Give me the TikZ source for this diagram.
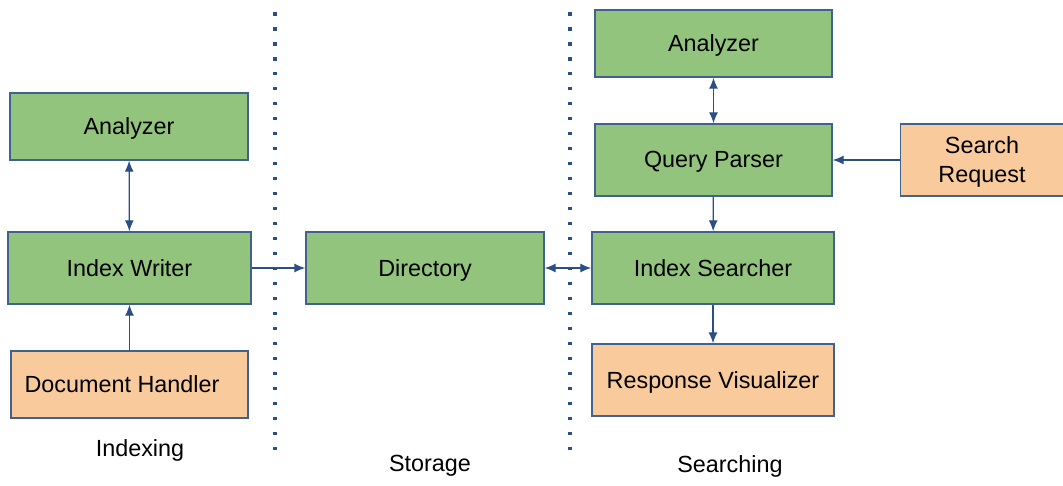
\documentclass[tikz,border=0pt]{standalone}
\usepackage{fontspec}
\setmainfont{Liberation Sans}
\usepackage{xcolor}
\usetikzlibrary{arrows.meta}
\definecolor{boxgreen}{HTML}{93C47D}
\definecolor{boxorange}{HTML}{F9CB9C}
\definecolor{edgeblue}{HTML}{41618F}
\definecolor{linkblue}{HTML}{2B4F85}

\begin{document}
\begin{tikzpicture}[x=0.02cm,y=-0.02cm,
  box/.style={draw=edgeblue, line width=0.8pt, fill=boxgreen,
    minimum width=4.76cm, minimum height=1.4cm, inner sep=2pt,
    text depth=0.1ex,
    font=\fontsize{13.3}{16.5}\selectfont, align=center},
  inbox/.style={box, fill=boxorange},
  link/.style={draw=linkblue, line width=0.7pt, -{Latex[length=0.22cm,width=0.18cm]}},
  twolink/.style={link, {Latex[length=0.22cm,width=0.18cm]}-{Latex[length=0.22cm,width=0.18cm]}},
  sep/.style={draw=linkblue, line width=0.07cm, dash pattern=on 0.07cm off 0.23cm},
  part/.style={font=\fontsize{13.3}{15.5}\selectfont}]
  \useasboundingbox (0,0) rectangle (1063,485);

  % indexing
  \node[box, minimum width=4.76cm, minimum height=1.34cm] (an1) at (129,126.5) {Analyzer};
  \node[box, minimum width=4.86cm, minimum height=1.44cm] (iw) at (129.5,268) {Index Writer};
  \node[inbox, minimum width=4.74cm, minimum height=1.34cm] (dh) at (129.5,384.5) {Document Handler\hspace*{0.3cm}};

  % storage
  \node[box, minimum width=4.76cm, minimum height=1.44cm] (dir) at (425,268) {Directory};

  % searching
  \node[box, minimum width=4.74cm, minimum height=1.34cm] (an2) at (713.5,43.5) {Analyzer};
  \node[box, minimum width=4.74cm, minimum height=1.44cm] (qp) at (713.5,160) {Query Parser};
  \node[inbox, minimum width=3.26cm, minimum height=1.44cm] (sr) at (982,160) {Search\\Request};
  \node[box, minimum width=4.84cm, minimum height=1.44cm] (is) at (713,268) {Index Searcher};
  \node[inbox, minimum width=4.84cm, minimum height=1.44cm] (rv) at (713,380) {Response Visualizer};

  \node[part] (lidx) at (140,450) {Indexing};
  \node[part] (lsto) at (430,466) {Storage};
  \node[part] (lsea) at (730,466) {Searching};

  % borders between the parts
  \coordinate (s1a) at (275,12);
  \coordinate (s1b) at (275,458);
  \coordinate (s2a) at (570,12);
  \coordinate (s2b) at (570,458);
  \draw[sep] (s1a) -- (s1b);
  \draw[sep] (s2a) -- (s2b);

  % links
  \draw[twolink] (an1) -- (iw);
  \draw[link] (dh) -- (iw);
  \draw[link] (iw) -- (dir);
  \draw[twolink] (dir) -- (is);
  \draw[twolink] (an2) -- (qp);
  \draw[link] (sr) -- (qp);
  \draw[link] (qp) -- (is);
  \draw[link] (is) -- (rv);
\end{tikzpicture}
\end{document}
